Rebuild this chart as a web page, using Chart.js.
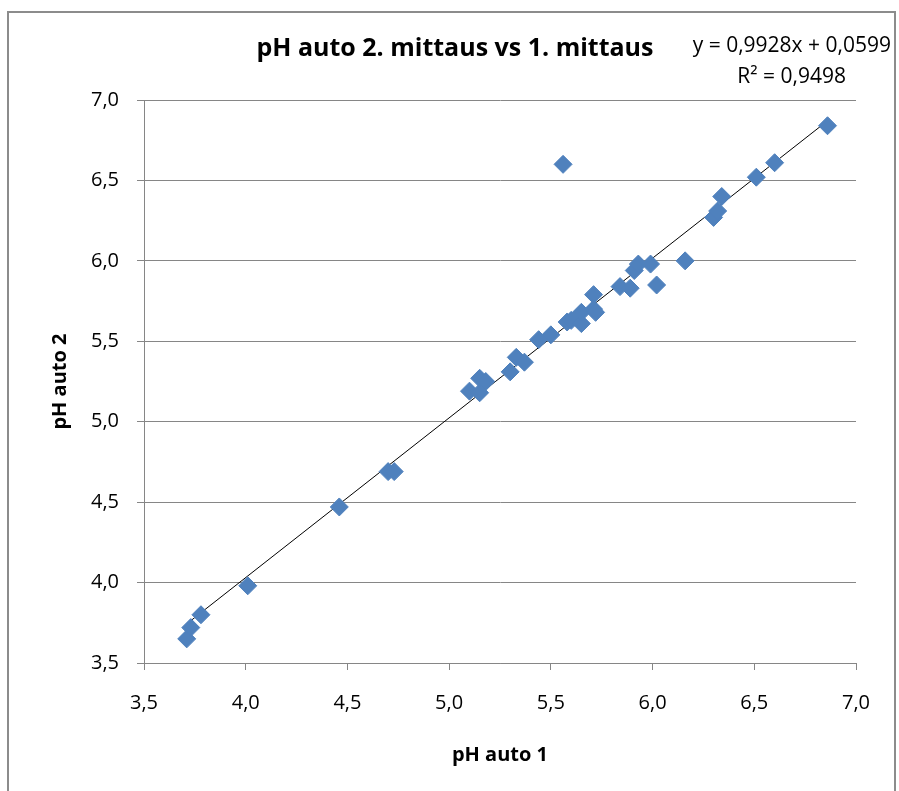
<!DOCTYPE html>
<html>
<head>
<meta charset="utf-8">
<script src="https://cdn.jsdelivr.net/npm/chart.js@4.4.1/dist/chart.umd.min.js"></script>
<style>
  body { margin: 0; background: #fff; }
  #wrap { position: absolute; left: 0; top: 0; width: 899px; height: 791px; }
  #frame { position: absolute; left: 7px; top: 11px; width: 889px; height: 800px; border: 2px solid #8c8c8c; box-sizing: border-box; }
</style>
</head>
<body>
<div id="wrap">
  <div id="frame"></div>
  <canvas id="chart" width="899" height="791"></canvas>
</div>
<script>
// Mittaukset: pH auto 1 (x) ja pH auto 2 (y)
const ph1 = [3.71, 3.73, 3.78, 4.01, 4.46, 4.70, 4.73, 5.10, 5.15, 5.15, 5.18, 5.30, 5.33, 5.37,
             5.44, 5.50, 5.56, 5.58, 5.60, 5.65, 5.65, 5.71, 5.71, 5.72, 5.84, 5.89, 5.91, 5.93,
             5.99, 6.02, 6.16, 6.30, 6.32, 6.34, 6.51, 6.60, 6.86];
const ph2 = [3.65, 3.72, 3.80, 3.98, 4.47, 4.69, 4.69, 5.19, 5.18, 5.27, 5.25, 5.31, 5.40, 5.37,
             5.51, 5.54, 6.60, 5.62, 5.63, 5.61, 5.68, 5.79, 5.70, 5.68, 5.84, 5.83, 5.94, 5.98,
             5.98, 5.85, 6.00, 6.27, 6.31, 6.40, 6.52, 6.61, 6.84];

// Trendiviiva: y = 0,9928x + 0,0599
const slope = 0.9928;
const intercept = 0.0599;
const trendX = [3.71, 6.87];

const xTicks = [3.5, 4.0, 4.5, 5.0, 5.5, 6.0, 6.5, 7.0];
const yTicks = [3.5, 4.0, 4.5, 5.0, 5.5, 6.0, 6.5, 7.0];

const chartTitle = 'pH auto 2. mittaus vs 1. mittaus';
const eqLine1 = 'y = 0,9928x + 0,0599';
const eqLine2 = 'R² = 0,9498';

const FONT = '"Open Sans", "Noto Sans", sans-serif';
const fmt = v => v.toFixed(1).replace('.', ',');

const points = ph1.map((x, i) => ({ x: x, y: ph2[i] }));
const trend = trendX.map(x => ({ x: x, y: slope * x + intercept }));

// Otsikko ja yhtälö piirretään käsin
const textPlugin = {
    id: 'texts',
    afterDraw(chart) {
        const ctx = chart.ctx;
        ctx.save();
        ctx.fillStyle = '#000';
        ctx.textBaseline = 'middle';
        ctx.font = 'bold 25px ' + FONT;
        ctx.textAlign = 'center';
        ctx.fillText(chartTitle, 455, 49);
        ctx.font = '21px ' + FONT;
        ctx.textAlign = 'right';
        ctx.fillText(eqLine1, 891, 46);
        ctx.fillText(eqLine2, 846, 77);
        ctx.restore();
    }
};

new Chart(document.getElementById('chart'), {
    type: 'scatter',
    data: {
        datasets: [{
            label: 'pH',
            data: points,
            backgroundColor: '#4f81bd',
            borderColor: '#4f81bd',
            pointStyle: 'rectRot',
            pointRadius: 9,
            pointHoverRadius: 9
        }, {
            label: 'trendi',
            type: 'line',
            data: trend,
            borderColor: '#000',
            borderWidth: 1,
            pointRadius: 0,
            fill: false
        }]
    },
    options: {
        responsive: false,
        animation: false,
        layout: { padding: { top: 100, right: 43, bottom: 0, left: 40 } },
        plugins: {
            legend: { display: false },
            title: { display: false },
            tooltip: { enabled: false }
        },
        scales: {
            x: {
                type: 'linear',
                min: 3.5,
                max: 7.0,
                afterBuildTicks: s => { s.ticks = xTicks.map(v => ({ value: v })); },
                afterFit: s => { s.height = 128; },
                ticks: {
                    callback: v => fmt(v),
                    color: '#000',
                    font: { family: FONT, size: 20 },
                    padding: 21
                },
                grid: { drawOnChartArea: false, drawTicks: true, tickLength: 7, color: '#868686' },
                border: { color: '#868686' },
                title: {
                    display: true,
                    text: 'pH auto 1',
                    color: '#000',
                    font: { family: FONT, size: 20, weight: 'bold' },
                    padding: { top: 4, bottom: 24 }
                }
            },
            y: {
                type: 'linear',
                min: 3.5,
                max: 7.0,
                afterBuildTicks: s => { s.ticks = yTicks.map(v => ({ value: v })); },
                afterFit: s => { s.width = 104; },
                ticks: {
                    callback: v => fmt(v),
                    color: '#000',
                    font: { family: FONT, size: 20 },
                    padding: 18
                },
                grid: { color: '#868686', tickLength: 7 },
                border: { color: '#868686' },
                title: {
                    display: true,
                    text: 'pH auto 2',
                    color: '#000',
                    font: { family: FONT, size: 20, weight: 'bold' },
                    padding: { top: 8, bottom: 0 }
                }
            }
        }
    },
    plugins: [textPlugin]
});
</script>
</body>
</html>
